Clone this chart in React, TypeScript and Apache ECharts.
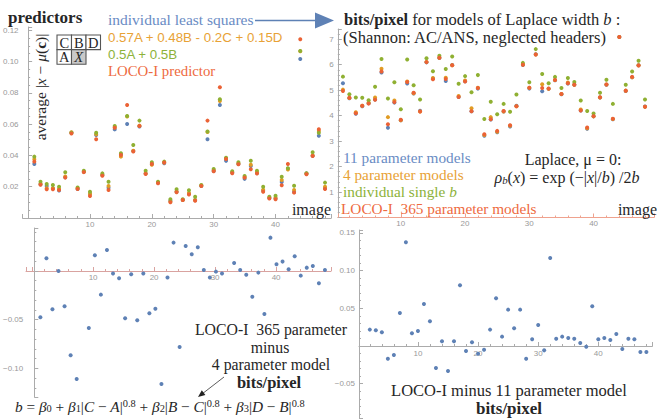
import React, { useEffect, useRef } from 'react';
import * as echarts from 'echarts';

// ---------- data ----------
const images = [1, 2, 3, 4, 5, 6, 7, 8, 9, 10, 11, 12, 13, 14, 15, 16, 17, 18, 19, 20, 21, 22, 23, 24, 25, 26, 27, 28, 29, 30, 31, 32, 33, 34, 35, 36, 37, 38, 39, 40, 41, 42, 43, 44, 45, 46, 47, 48];

// top-left: average |x - mu(c)| for predictors
const predLeastSquares = [0.0345, 0.0215, 0.0205, 0.019, 0.0175, 0.026, 0.0545, 0.0185, 0.0296, 0.0155, 0.053, 0.0275, 0.0194, 0.0566, 0.0405, 0.06, 0.0428, 0.0585, 0.0285, 0.0345, 0.0225, 0.035, 0.011, 0.0168, 0.0115, 0.0155, 0.0115, 0.0205, 0.0503, 0.03, 0.0722, 0.0365, 0.029, 0.0345, 0.025, 0.0332, 0.0288, 0.0175, 0.0128, 0.0125, 0.023, 0.0315, 0.0168, 0.1016, 0.0285, 0.0398, 0.0526, 0.019];
const predFourTerm = [0.0375, 0.0218, 0.019, 0.019, 0.0185, 0.0265, 0.0548, 0.019, 0.0296, 0.0154, 0.0535, 0.0275, 0.0205, 0.058, 0.0392, 0.0648, 0.043, 0.059, 0.0285, 0.034, 0.0225, 0.0355, 0.0105, 0.017, 0.0115, 0.016, 0.0115, 0.0207, 0.055, 0.0305, 0.0748, 0.038, 0.029, 0.0348, 0.026, 0.034, 0.029, 0.018, 0.013, 0.013, 0.0243, 0.031, 0.0179, 0.1065, 0.0283, 0.04, 0.0556, 0.02];
const predHalfHalf = [0.0392, 0.0232, 0.0217, 0.0211, 0.02, 0.0292, 0.0545, 0.0195, 0.0302, 0.0168, 0.0545, 0.0285, 0.0232, 0.0587, 0.0413, 0.0652, 0.0466, 0.0622, 0.0302, 0.0356, 0.0232, 0.036, 0.012, 0.0183, 0.012, 0.0177, 0.0136, 0.0211, 0.0552, 0.0313, 0.0758, 0.0385, 0.0298, 0.0356, 0.0268, 0.0366, 0.0302, 0.02, 0.0136, 0.0142, 0.0264, 0.0318, 0.0206, 0.1067, 0.0286, 0.042, 0.0545, 0.0226];
const predLOCO = [0.036, 0.0213, 0.0183, 0.0183, 0.0179, 0.0258, 0.054, 0.0185, 0.0293, 0.0141, 0.0503, 0.027, 0.0179, 0.0576, 0.0403, 0.0722, 0.0425, 0.0588, 0.0281, 0.0345, 0.0222, 0.0355, 0.01, 0.0164, 0.0115, 0.015, 0.011, 0.0205, 0.0622, 0.0298, 0.0835, 0.0377, 0.0286, 0.0343, 0.0258, 0.0311, 0.0284, 0.0168, 0.0125, 0.012, 0.0209, 0.0345, 0.0162, 0.1142, 0.028, 0.0396, 0.0567, 0.0185];

// top-right: bits/pixel
const bits11 = [5.27, 4.68, 4.07, 4.37, 4.49, 4.63, 5.69, 3.52, 4.51, 3.82, 5.26, 4.87, 4.19, 6.09, 5.46, 6.26, 5.36, 5.99, 4.73, 5.35, 4.17, 5.06, 3.21, 3.85, 3.35, 4.16, 3.57, 4.39, 5.99, 5.06, 6.41, 4.96, 5.05, 5.39, 4.84, 5.26, 5.21, 4.2, 3.48, 3.97, 4.71, 5.21, 3.86, 7.09, 4.97, 5.51, 5.98, 4.36];
const bits4 = [5.02, 4.69, 4.13, 4.39, 4.51, 4.71, 5.84, 3.94, 4.59, 3.82, 5.34, 4.88, 4.16, 6.11, 5.48, 6.27, 5.49, 5.98, 4.77, 5.38, 4.29, 5.09, 3.24, 3.94, 3.37, 4.16, 3.6, 4.37, 6.01, 5.09, 6.4, 5.23, 5.05, 5.4, 4.85, 5.3, 5.21, 4.24, 3.5, 3.97, 4.71, 5.22, 3.87, 7.09, 4.98, 5.51, 5.98, 4.35];
const bitsSingle = [5.53, 4.84, 4.71, 4.7, 4.6, 5.13, 6.22, 4.67, 5.31, 4.25, 6.2, 5.19, 4.63, 6.25, 5.74, 6.35, 5.83, 6.32, 5.25, 5.55, 4.92, 5.59, 3.87, 4.54, 4.05, 4.46, 4.15, 4.83, 6.07, 5.31, 6.61, 5.63, 5.27, 5.52, 5.08, 5.48, 5.32, 4.59, 4.18, 4.08, 4.9, 5.41, 4.46, null, 5.21, 5.73, 6.15, 4.63];
const bitsLOCO = [4.97, 4.7, 4.09, 4.39, 4.47, 4.62, 5.73, 3.66, 4.53, 3.84, 5.32, 4.9, 4.16, 6.1, 5.43, 6.27, 5.44, 5.98, 4.73, 5.34, 4.17, 5.08, 3.27, 3.86, 3.4, 4.18, 3.62, 4.37, 6.0, 5.09, 6.4, 5.08, 5.06, 5.4, 4.85, 5.27, 5.21, 4.2, 3.53, 3.98, 4.72, 5.22, 3.88, 7.09, 4.98, 5.52, 5.97, 4.35];

// bottom-left: LOCO-I minus 4 parameter model
const diffMinus4 = [-0.0476, 0.013, -0.0394, 0.0, -0.0363, -0.0866, -0.111, null, -0.0586, 0.0161, -0.0243, 0.0216, -0.0027, -0.0075, -0.0486, -0.0034, -0.0507, -0.0027, -0.0435, -0.0387, -0.116, -0.0068, 0.0291, -0.078, 0.0257, 0.0171, 0.0243, 0.001, -0.0068, -0.0007, -0.0027, null, 0.0082, 0.001, -0.0038, -0.0264, -0.0017, -0.0442, 0.0342, 0.0068, 0.0096, 0.0017, 0.0151, -0.0048, 0.0034, 0.0051, -0.0127, 0.001];
// bottom-right: LOCO-I minus 11 parameter model
const diffMinus11 = [null, 0.0217, 0.0208, 0.0181, -0.0168, -0.0119, 0.0438, 0.1376, 0.0168, 0.0199, 0.0558, 0.0327, -0.0292, 0.0062, -0.0332, 0.0062, 0.0805, -0.0066, 0.0049, -0.0102, -0.0049, 0.0217, 0.0633, 0.0124, 0.0482, 0.0235, 0.0482, -0.0168, 0.0088, 0.0279, -0.0058, 0.1168, 0.0097, 0.0124, 0.0106, 0.0097, 0.004, -0.0009, 0.0527, 0.0088, 0.0106, 0.008, 0.0159, -0.004, 0.0097, 0.0088, -0.008, -0.008];

// ---------- styling ----------
const SERIF = "'Liberation Serif', 'DejaVu Serif', serif";
const SANS = "'Liberation Sans', 'DejaVu Sans', sans-serif";
const COL = { blue: '#5E81B5', orange: '#E19C24', green: '#8FB032', red: '#EB6235' };
const TXT = { blue: '#6A8CC4', orange: '#E8A236', green: '#8DB23A', red: '#EE6A40', black: '#262626' };
const AXIS_GRAY = '#ABABAB';
const LABEL_GRAY = '#999999';

function fmtX(v: number) {
  const r = Math.round(v);
  return Math.abs(v - r) < 1e-9 && r % 10 === 0 && r > 0 && r < 45 ? String(r) : '';
}
function fmtStep(step: number, digits: number, hideZero = true) {
  return (v: number) => {
    const k = v / step;
    const rk = Math.round(k);
    if (Math.abs(k - rk) > 1e-6) return '';
    if (hideZero && rk === 0) return '';
    const s = Math.abs(rk * step).toFixed(digits);
    return (rk < 0 ? '\u2212' : '') + s;
  };
}

function xAxis(gi: number, min: number, max: number, color: string, margin: number) {
  return {
    type: 'value', gridIndex: gi, min, max, splitNumber: 5,
    axisLine: { show: true, onZero: false, lineStyle: { color, width: 1 } },
    axisTick: { show: true, inside: true, length: 4, lineStyle: { color } },
    minorTick: { show: true, splitNumber: 5, length: 2, lineStyle: { color } },
    splitLine: { show: false },
    axisLabel: { margin, fontSize: 8, color: LABEL_GRAY, fontFamily: SANS, formatter: fmtX, hideOverlap: false },
  };
}
function hiddenX(gi: number, min: number, max: number) {
  return { type: 'value', gridIndex: gi, min, max, show: false, splitLine: { show: false } };
}
function hiddenY(gi: number) {
  return { type: 'value', gridIndex: gi, min: 0, max: 1, show: false, splitLine: { show: false } };
}
function yAxis(gi: number, min: number, max: number, opts: any) {
  return {
    type: 'value', gridIndex: gi, min, max,
    axisLine: { show: true, onZero: true, lineStyle: { color: AXIS_GRAY, width: 1 } },
    axisTick: { show: true, inside: true, length: 4, lineStyle: { color: AXIS_GRAY } },
    minorTick: { show: true, splitNumber: 5, length: 2, lineStyle: { color: AXIS_GRAY } },
    splitLine: { show: false },
    axisLabel: { margin: 4, fontSize: 8, color: LABEL_GRAY, fontFamily: SANS },
    ...opts,
  };
}

function scatter(values: (number | null)[], color: string, gi: number, z: number) {
  const data: number[][] = [];
  values.forEach((v, i) => { if (v !== null && v !== undefined) data.push([images[i], v]); });
  return {
    type: 'scatter', xAxisIndex: gi, yAxisIndex: gi, data, symbol: 'circle', symbolSize: 4,
    itemStyle: { color, opacity: 1 }, z, silent: true,
  };
}

function T(x: number, y: number, text: string, opts: any = {}) {
  const { rotation, ...style } = opts;
  const el: any = {
    type: 'text', x, y, z: 100,
    style: {
      text, fontFamily: SERIF, fontSize: 15, fill: TXT.black,
      textAlign: 'left', textVerticalAlign: 'middle', ...style,
    },
  };
  if (rotation !== undefined) el.rotation = rotation;
  return el;
}

function richBase(size: number, fill: string) {
  return {
    i: { fontStyle: 'italic', fontFamily: SERIF, fontSize: size, fill },
    b: { fontWeight: 'bold', fontFamily: SERIF, fontSize: size, fill },
    n: { fontFamily: SERIF, fontSize: size, fill },
    sub: { fontFamily: SERIF, fontSize: size * 0.68, fill, verticalAlign: 'bottom' },
    isub: { fontStyle: 'italic', fontFamily: SERIF, fontSize: size * 0.68, fill, verticalAlign: 'bottom' },
    sup: { fontFamily: SERIF, fontSize: size * 0.68, fill, verticalAlign: 'top' },
  };
}

function buildOption() {
  const cell = (x: number, y: number, fill: string) => ({
    type: 'rect', z: 100, shape: { x, y, width: 14.5, height: 14.6 },
    style: { fill, stroke: '#555', lineWidth: 1.1 },
  });
  const cellText = (x: number, y: number, t: string, italic = false) =>
    T(x + 7.25, y + 7.6, t, { textAlign: 'center', fontSize: 14.5, fontStyle: italic ? 'italic' : 'normal' });

  const graphics: any[] = [
    // ---- top-left annotations ----
    T(8, 17.5, 'predictors', { fontWeight: 'bold', fontSize: 17 }),
    T(108, 19.5, 'individual least squares', { fill: TXT.blue, fontSize: 15.5 }),
    { type: 'line', z: 100, shape: { x1: 255, y1: 20.5, x2: 319, y2: 20.5 }, style: { stroke: COL.blue, lineWidth: 1.6 } },
    { type: 'polygon', z: 100, shape: { points: [[315, 12.5], [334, 20.5], [315, 28.5]] }, style: { fill: COL.blue } },
    T(108, 37.5, '0.57A + 0.48B - 0.2C + 0.15D', { fill: TXT.orange, fontFamily: SANS, fontSize: 13.3 }),
    T(108, 54, '0.5A + 0.5B', { fill: TXT.green, fontFamily: SANS, fontSize: 13.3 }),
    T(108, 71, 'LOCO-I predictor', { fill: TXT.red, fontSize: 14.8 }),
    T(40, 87, 'average |{i|x} \u2212 {i|\u03BC}({bb|c})|', {
      rotation: Math.PI / 2, textAlign: 'center', fontSize: 15.5,
      rich: { ...richBase(15.5, TXT.black), bb: { fontWeight: 'bold', fontFamily: SERIF, fontSize: 15.5, fill: TXT.black } },
    }),
    cell(57, 35, '#ffffff'), cell(71.5, 35, '#ffffff'), cell(86, 35, '#ffffff'),
    cell(57, 49.6, '#ffffff'), cell(71.5, 49.6, '#C9C9C9'),
    cellText(57, 35, 'C'), cellText(71.5, 35, 'B'), cellText(86, 35, 'D'),
    cellText(57, 49.6, 'A'), cellText(71.5, 49.6, 'X', true),
    T(331, 209.5, 'image', { textAlign: 'right', fontSize: 16 }),

    // ---- top-right annotations ----
    T(344, 19, '{b|bits/pixel} for models of Laplace width {i|b} :', { fontSize: 16.5, rich: richBase(16.5, TXT.black) }),
    T(343, 37.5, '(Shannon: AC/ANS, neglected headers)', { fontSize: 16.5 }),
    T(343, 157, '11 parameter models', { fill: TXT.blue, fontSize: 15.3 }),
    T(343, 174, '4 parameter models', { fill: TXT.orange, fontSize: 15.3 }),
    T(343, 191, 'individual single {i|b}', { fill: TXT.green, fontSize: 15.3, rich: richBase(15.3, TXT.green) }),
    T(341, 208, 'LOCO-I  365 parameter models', { fill: TXT.red, fontSize: 15.3 }),
    T(573, 159, 'Laplace, \u03BC = 0:', { textAlign: 'center', fontSize: 16 }),
    T(567, 177, '{i|\u03C1}{isub|b}({i|x}) = exp (\u2212|{i|x}|/{i|b}) /2{i|b}', {
      textAlign: 'center', fontSize: 16, rich: richBase(16, TXT.black),
    }),
    T(657, 209.5, 'image', { textAlign: 'right', fontSize: 16 }),

    // ---- bottom-left annotations ----
    T(271, 329.5, 'LOCO-I  365 parameter', { textAlign: 'center', fontSize: 15.8 }),
    T(270, 347, 'minus', { textAlign: 'center', fontSize: 15.8 }),
    T(271, 364.5, '4 parameter model', { textAlign: 'center', fontSize: 15.8 }),
    T(269, 382, 'bits/pixel', { textAlign: 'center', fontSize: 16.5, fontWeight: 'bold' }),
    { type: 'line', z: 100, shape: { x1: 224, y1: 377, x2: 202, y2: 394 }, style: { stroke: '#333', lineWidth: 0.8 } },
    { type: 'polygon', z: 100, shape: { points: [[198, 397], [205.4, 395.1], [201.8, 390.3]] }, style: { fill: '#222' } },
    T(15, 406, '{i|b} = {i|\u03B2}{sub|0} + {i|\u03B2}{sub|1}|{i|C} \u2212 {i|A}|{sup|0.8} + {i|\u03B2}{sub|2}|{i|B} \u2212 {i|C}|{sup|0.8} + {i|\u03B2}{sub|3}|{i|D} \u2212 {i|B}|{sup|0.8}', {
      fontSize: 15.3, rich: richBase(15.3, TXT.black),
    }),

    // ---- bottom-right annotations ----
    T(509, 390, 'LOCO-I minus 11 parameter model', { textAlign: 'center', fontSize: 16.5 }),
    T(509, 408, 'bits/pixel', { textAlign: 'center', fontSize: 17, fontWeight: 'bold' }),
  ];

  return {
    animation: false,
    backgroundColor: '#ffffff',
    grid: [
      { left: 21.5, top: 27, width: 309.7, height: 191 },
      { left: 337.8, top: 29, width: 318.3, height: 188.5 },
      { left: 26, top: 228, width: 305, height: 169 },
      { left: 359, top: 230, width: 293.4, height: 188 },
      // bands ending on the zero lines, carrying the visible x axes of the bottom panels
      { left: 26, top: 228, width: 305, height: 43 },
      { left: 359, top: 230, width: 293.4, height: 116 },
    ],
    xAxis: [
      xAxis(0, -0.9, 49, AXIS_GRAY, 2),
      xAxis(1, 0.2, 49.4, '#EFA28E', 2),
      hiddenX(2, -1, 49),
      hiddenX(3, 0.2, 49),
      xAxis(4, -1, 49, '#D9A3A0', 2),
      xAxis(5, 0.2, 49, AXIS_GRAY, 3),
    ],
    yAxis: [
      yAxis(0, 0, 0.122, { interval: 0.02, minorTick: { show: true, splitNumber: 4, length: 2, lineStyle: { color: AXIS_GRAY } }, axisLabel: { margin: 4, fontSize: 8, color: LABEL_GRAY, fontFamily: SANS, formatter: fmtStep(0.02, 2) } }),
      yAxis(1, 0, 7.4, { interval: 1, axisLabel: { margin: 4, fontSize: 8, color: LABEL_GRAY, fontFamily: SANS, formatter: fmtStep(1, 0) } }),
      yAxis(2, -0.1294, 0.0441, { splitNumber: 4, axisLabel: { margin: 5, fontSize: 8, color: LABEL_GRAY, fontFamily: SANS, formatter: fmtStep(0.05, 2) } }),
      yAxis(3, -0.0955, 0.1538, { splitNumber: 5, axisLabel: { margin: 4, fontSize: 8, color: LABEL_GRAY, fontFamily: SANS, formatter: fmtStep(0.05, 2) } }),
      hiddenY(4),
      hiddenY(5),
    ],
    series: [
      scatter(predLeastSquares, COL.blue, 0, 2),
      scatter(predFourTerm, COL.orange, 0, 3),
      scatter(predHalfHalf, COL.green, 0, 4),
      scatter(predLOCO, COL.red, 0, 5),
      scatter(bits11, COL.blue, 1, 2),
      scatter(bits4, COL.orange, 1, 3),
      scatter(bitsSingle, COL.green, 1, 4),
      scatter(bitsLOCO, COL.red, 1, 5),
      scatter(diffMinus4, COL.blue, 2, 2),
      scatter(diffMinus11, COL.blue, 3, 2),
    ],
    graphic: { elements: graphics },
  };
}

export default function App() {
  const ref = useRef<HTMLDivElement>(null);
  useEffect(() => {
    if (!ref.current) return;
    const chart = echarts.init(ref.current, null, { renderer: 'svg' });
    chart.setOption(buildOption() as any);
    return () => chart.dispose();
  }, []);
  return (
    <div
      ref={ref}
      style={{ position: 'absolute', left: 0, top: 0, width: 657, height: 420, background: '#fff' }}
    />
  );
}
